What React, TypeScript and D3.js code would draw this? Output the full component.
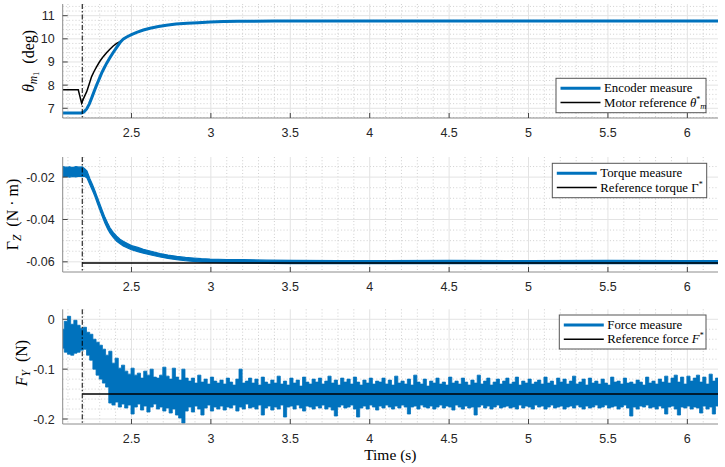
import * as d3 from "d3";

const W = 725;
const H = 467;
const LEFT = 62.7;
const RIGHT = 718;
const BLUE = "#0072BD";
const SANS = "'Liberation Sans', Arial, sans-serif";
const SERIF = "'Liberation Serif', 'DejaVu Serif', serif";

const tRange = [2.067, 6.193];
const tEvent = 2.19;
const xTicks = [2.5, 3, 3.5, 4, 4.5, 5, 5.5, 6];

// encoder measure and motor reference (deg)
const encTime = [2.067, 2.186, 2.2, 2.218, 2.234, 2.249, 2.265, 2.281, 2.297, 2.312, 2.328, 2.344, 2.365, 2.385, 2.407, 2.428, 2.45, 2.47, 2.5, 2.533, 2.575, 2.617, 2.67, 2.72, 2.78, 2.85, 2.92, 2.995, 3.08, 3.17, 3.4, 4.0, 5.0, 6.193];
const encAngle = [6.8, 6.8, 6.84, 6.97, 7.18, 7.44, 7.73, 8.01, 8.27, 8.52, 8.74, 8.95, 9.19, 9.41, 9.63, 9.84, 10.0, 10.08, 10.18, 10.28, 10.38, 10.46, 10.53, 10.59, 10.64, 10.67, 10.7, 10.73, 10.745, 10.76, 10.77, 10.77, 10.77, 10.77];
const refTime = [2.067, 2.165, 2.186, 2.2, 2.218, 2.234, 2.249, 2.265, 2.281, 2.3, 2.322, 2.343, 2.364, 2.385, 2.407, 2.428, 2.45, 2.47, 2.5, 2.533, 2.575, 2.617, 2.67, 2.72, 2.78, 2.85, 2.92, 2.995, 3.08, 3.17, 3.4, 6.193];
const refAngle = [7.8, 7.8, 7.22, 7.45, 7.72, 8.05, 8.37, 8.6, 8.8, 9.02, 9.23, 9.4, 9.55, 9.69, 9.8, 9.88, 10.0, 10.08, 10.18, 10.28, 10.38, 10.46, 10.53, 10.59, 10.64, 10.67, 10.7, 10.73, 10.745, 10.76, 10.77, 10.77];

// torque measure band (N.m)
const torqueTime = [2.067, 2.09, 2.11, 2.13, 2.15, 2.17, 2.19, 2.205, 2.22, 2.239, 2.255, 2.27, 2.285, 2.301, 2.317, 2.333, 2.35, 2.364, 2.385, 2.407, 2.428, 2.448, 2.475, 2.5, 2.54, 2.575, 2.63, 2.68, 2.73, 2.785, 2.84, 2.89, 2.94, 2.995, 3.1, 3.205, 3.35, 3.52, 3.8, 4.1, 4.5, 5.0, 5.5, 6.0, 6.193];
const torqueHigh = [-0.015, -0.0154, -0.0151, -0.0155, -0.015, -0.0153, -0.0152, -0.016, -0.0172, -0.0209, -0.0236, -0.0264, -0.0295, -0.0327, -0.0359, -0.039, -0.0417, -0.0438, -0.0461, -0.0479, -0.0493, -0.0503, -0.0514, -0.0523, -0.0532, -0.0541, -0.0551, -0.0561, -0.0568, -0.0574, -0.0579, -0.0582, -0.0585, -0.0587, -0.0589, -0.059, -0.0592, -0.0593, -0.0594, -0.0594, -0.0593, -0.0594, -0.0593, -0.0594, -0.0594];
const torqueLow = [-0.0198, -0.0196, -0.02, -0.0197, -0.0199, -0.0196, -0.0198, -0.0196, -0.0204, -0.0237, -0.0264, -0.0292, -0.0323, -0.0355, -0.0387, -0.0418, -0.0445, -0.0464, -0.0485, -0.0503, -0.0515, -0.0525, -0.0534, -0.0543, -0.0552, -0.0559, -0.0569, -0.0577, -0.0584, -0.059, -0.0595, -0.0598, -0.0601, -0.0603, -0.0605, -0.0606, -0.0607, -0.0608, -0.0608, -0.0608, -0.0608, -0.0608, -0.0608, -0.0608, -0.0608];
const torqueRef = -0.0606;

// force measure band (N), sampled every 0.02 s
const FORCE_T0 = 2.067;
const FORCE_DT = 0.02;
const forceHigh = [
  -0.020, -0.004, 0.006, -0.010, -0.002, -0.012, -0.018, -0.016, -0.026, -0.030,
  -0.040, -0.046, -0.052, -0.060, -0.072, -0.064, -0.088, -0.078, -0.098, -0.092,
  -0.104, -0.110, -0.098, -0.112, -0.108, -0.118, -0.104, -0.112, -0.100, -0.116,
  -0.118, -0.112, -0.096, -0.114, -0.120, -0.098, -0.116, -0.122, -0.100, -0.118,
  -0.124, -0.118, -0.128, -0.112, -0.126, -0.120, -0.130, -0.116, -0.124, -0.128,
  -0.122, -0.130, -0.118, -0.126, -0.132, -0.120, -0.100, -0.128, -0.124, -0.118,
  -0.128, -0.120, -0.132, -0.116, -0.126, -0.130, -0.122, -0.128, -0.114, -0.130,
  -0.124, -0.132, -0.118, -0.128, -0.122, -0.134, -0.116, -0.126, -0.130, -0.120,
  -0.126, -0.118, -0.130, -0.124, -0.114, -0.128, -0.122, -0.132, -0.118, -0.126,
  -0.120, -0.130, -0.116, -0.126, -0.132, -0.122, -0.128, -0.118, -0.130, -0.124,
  -0.126, -0.118, -0.130, -0.122, -0.132, -0.114, -0.128, -0.124, -0.130, -0.120,
  -0.132, -0.112, -0.126, -0.130, -0.120, -0.134, -0.124, -0.128, -0.118, -0.130,
  -0.126, -0.132, -0.116, -0.128, -0.124, -0.130, -0.118, -0.126, -0.132, -0.122,
  -0.128, -0.112, -0.130, -0.124, -0.118, -0.132, -0.126, -0.120, -0.130, -0.124,
  -0.118, -0.130, -0.126, -0.116, -0.132, -0.124, -0.128, -0.120, -0.130, -0.126,
  -0.122, -0.130, -0.116, -0.128, -0.124, -0.132, -0.118, -0.126, -0.120, -0.130,
  -0.124, -0.114, -0.130, -0.126, -0.120, -0.132, -0.118, -0.128, -0.124, -0.130,
  -0.120, -0.128, -0.132, -0.116, -0.126, -0.124, -0.130, -0.118, -0.128, -0.126,
  -0.130, -0.122, -0.126, -0.132, -0.116, -0.128, -0.124, -0.130, -0.120, -0.126,
  -0.114, -0.128, -0.118, -0.112, -0.126, -0.116, -0.130, -0.114, -0.124, -0.118,
  -0.112, -0.126, -0.116, -0.130, -0.110, -0.124, -0.118, -0.128, -0.120, -0.126,
];
const forceLow = [
  -0.058, -0.066, -0.070, -0.072, -0.068, -0.066, -0.062, -0.060, -0.072, -0.082,
  -0.100, -0.112, -0.120, -0.128, -0.136, -0.168, -0.172, -0.166, -0.176, -0.170,
  -0.178, -0.172, -0.190, -0.176, -0.170, -0.182, -0.174, -0.186, -0.176, -0.170,
  -0.180, -0.176, -0.184, -0.178, -0.188, -0.180, -0.192, -0.198, -0.208, -0.184,
  -0.176, -0.186, -0.174, -0.180, -0.192, -0.178, -0.172, -0.184, -0.176, -0.180,
  -0.174, -0.182, -0.176, -0.178, -0.172, -0.184, -0.176, -0.180, -0.170, -0.178,
  -0.176, -0.180, -0.172, -0.192, -0.178, -0.174, -0.182, -0.176, -0.180, -0.172,
  -0.196, -0.176, -0.174, -0.180, -0.172, -0.178, -0.184, -0.174, -0.176, -0.180,
  -0.174, -0.178, -0.172, -0.180, -0.176, -0.182, -0.194, -0.176, -0.172, -0.178,
  -0.176, -0.172, -0.180, -0.196, -0.178, -0.174, -0.180, -0.172, -0.176, -0.182,
  -0.174, -0.178, -0.172, -0.176, -0.180, -0.174, -0.178, -0.172, -0.176, -0.190,
  -0.176, -0.174, -0.180, -0.172, -0.176, -0.178, -0.174, -0.180, -0.176, -0.172,
  -0.178, -0.174, -0.176, -0.182, -0.172, -0.176, -0.180, -0.174, -0.178, -0.176,
  -0.192, -0.176, -0.172, -0.178, -0.174, -0.180, -0.176, -0.172, -0.178, -0.176,
  -0.174, -0.178, -0.176, -0.180, -0.172, -0.178, -0.174, -0.176, -0.180, -0.172,
  -0.176, -0.174, -0.180, -0.176, -0.172, -0.178, -0.176, -0.174, -0.180, -0.176,
  -0.174, -0.178, -0.172, -0.176, -0.180, -0.174, -0.178, -0.176, -0.172, -0.178,
  -0.176, -0.172, -0.178, -0.176, -0.174, -0.180, -0.176, -0.172, -0.178, -0.194,
  -0.176, -0.180, -0.174, -0.176, -0.172, -0.178, -0.176, -0.180, -0.174, -0.178,
  -0.190, -0.176, -0.174, -0.180, -0.192, -0.176, -0.178, -0.174, -0.180, -0.176,
  -0.178, -0.188, -0.174, -0.180, -0.176, -0.190, -0.174, -0.178, -0.176, -0.180,
];
const forceRef = -0.15;

const x = d3.scaleLinear().domain(tRange).range([LEFT, RIGHT]);
const xMinor = d3.range(21, 62).filter((i) => i % 5 !== 0).map((i) => i / 10);

type PanelProps = {
  id: string;
  top: number;
  bottom: number;
  domain: [number, number];
  ticks: number[];
  minor: number[];
  fmt: (d: number) => string;
  children: (y: d3.ScaleLinear<number, number>) => any;
};

function Panel({ id, top, bottom, domain, ticks, minor, fmt, children }: PanelProps) {
  const y = d3.scaleLinear().domain(domain).range([bottom, top]);
  const minorIn = minor.filter((v) => v > domain[0] && v < domain[1]);
  return (
    <g>
      <defs>
        <clipPath id={id}>
          <rect x={LEFT} y={top} width={RIGHT - LEFT} height={bottom - top} />
        </clipPath>
      </defs>
      <g stroke="#c4c4c4" strokeWidth={0.8} strokeDasharray="1,2.2">
        {xMinor.map((t) => (
          <line key={"xm" + t} x1={x(t)} x2={x(t)} y1={top} y2={bottom} />
        ))}
        {minorIn.map((v) => (
          <line key={"ym" + v} x1={LEFT} x2={RIGHT} y1={y(v)} y2={y(v)} />
        ))}
      </g>
      <g stroke="#e3e3e3" strokeWidth={1}>
        {xTicks.map((t) => (
          <line key={"xg" + t} x1={x(t)} x2={x(t)} y1={top} y2={bottom} />
        ))}
        {ticks.map((v) => (
          <line key={"yg" + v} x1={LEFT} x2={RIGHT} y1={y(v)} y2={y(v)} />
        ))}
      </g>
      <g clipPath={`url(#${id})`}>{children(y)}</g>
      <line
        x1={x(tEvent)}
        x2={x(tEvent)}
        y1={top}
        y2={bottom}
        stroke="#000"
        strokeWidth={1}
        strokeDasharray="5,2,1.5,2"
      />
      <line x1={LEFT} x2={LEFT} y1={top} y2={bottom} stroke="#8c8c8c" strokeWidth={1} />
      <line x1={LEFT} x2={RIGHT} y1={bottom} y2={bottom} stroke="#8c8c8c" strokeWidth={1} />
      <g stroke="#444" strokeWidth={1}>
        {xTicks.map((t) => (
          <line key={"xt" + t} x1={x(t)} x2={x(t)} y1={bottom} y2={bottom - 5} />
        ))}
        {ticks.map((v) => (
          <line key={"yt" + v} x1={LEFT} x2={LEFT + 5} y1={y(v)} y2={y(v)} />
        ))}
      </g>
      <g fontFamily={SANS} fontSize={12.5} fill="#262626">
        {xTicks.map((t) => (
          <text key={"xl" + t} x={x(t)} y={bottom + 19} textAnchor="middle">
            {String(t)}
          </text>
        ))}
        {ticks.map((v) => (
          <text key={"yl" + v} x={LEFT - 8} y={y(v) + 4.5} textAnchor="end">
            {fmt(v)}
          </text>
        ))}
      </g>
    </g>
  );
}

type LegendItem = { color: string; width: number; label: any };

function Legend({ x0, y0, w, h, items }: { x0: number; y0: number; w: number; h: number; items: LegendItem[] }) {
  return (
    <g>
      <rect x={x0} y={y0} width={w} height={h} fill="#fff" stroke="#555" strokeWidth={1} />
      {items.map((it, i) => {
        const cy = y0 + 10 + i * 14.2;
        return (
          <g key={i}>
            <line x1={x0 + 4.5} x2={x0 + 44.5} y1={cy} y2={cy} stroke={it.color} strokeWidth={it.width} />
            <text x={x0 + 48} y={cy + 4} fontFamily={SERIF} fontSize={12.8} fill="#000">
              {it.label}
            </text>
          </g>
        );
      })}
    </g>
  );
}

export default function App() {
  const pts = (ts: number[], vs: number[]) => ts.map((t, i) => [t, vs[i]] as [number, number]);
  const forceT = forceHigh.map((_, i) => FORCE_T0 + i * FORCE_DT);

  return (
    <svg width={W} height={H} style={{ position: "absolute", left: 0, top: 0, background: "#fff" }}>
      <Panel
        id="c1"
        top={4}
        bottom={118}
        domain={[6.58, 11.505]}
        ticks={[7, 8, 9, 10, 11]}
        minor={d3.range(33, 58).filter((i) => i % 5 !== 0).map((i) => i / 5)}
        fmt={(d) => String(d)}
      >
        {(y) => {
          const line = d3.line<[number, number]>().x((d) => x(d[0])).y((d) => y(d[1]));
          return (
            <>
              <path d={line(pts(refTime, refAngle)) || ""} fill="none" stroke="#000" strokeWidth={1.5} />
              <path d={line(pts(encTime, encAngle)) || ""} fill="none" stroke={BLUE} strokeWidth={3} />
            </>
          );
        }}
      </Panel>
      <Panel
        id="c2"
        top={157}
        bottom={272}
        domain={[-0.0648, -0.0105]}
        ticks={[-0.06, -0.04, -0.02]}
        minor={d3.range(-13, -2).filter((i) => i % 4 !== 0).map((i) => i * 0.005)}
        fmt={(d) => d.toFixed(2)}
      >
        {(y) => {
          const area = d3
            .area<number>()
            .x((_, i) => x(torqueTime[i]))
            .y0((_, i) => y(torqueLow[i]))
            .y1((_, i) => y(torqueHigh[i]));
          return (
            <>
              <path d={area(torqueTime) || ""} fill={BLUE} stroke={BLUE} strokeWidth={1.2} />
              <line x1={x(tEvent)} x2={RIGHT} y1={y(torqueRef)} y2={y(torqueRef)} stroke="#000" strokeWidth={1.5} />
            </>
          );
        }}
      </Panel>
      <Panel
        id="c3"
        top={309.3}
        bottom={424}
        domain={[-0.21, 0.02]}
        ticks={[-0.2, -0.1, 0]}
        minor={d3.range(-10, 2).filter((i) => i % 5 !== 0).map((i) => i * 0.02)}
        fmt={(d) => String(d)}
      >
        {(y) => {
          const area = d3
            .area<number>()
            .curve(d3.curveStep)
            .x((_, i) => x(forceT[i]))
            .y0((_, i) => y(forceLow[i]))
            .y1((_, i) => y(forceHigh[i]));
          return (
            <>
              <path d={area(forceT) || ""} fill={BLUE} stroke={BLUE} strokeWidth={0.8} />
              <line x1={x(tEvent)} x2={RIGHT} y1={y(forceRef)} y2={y(forceRef)} stroke="#000" strokeWidth={1.5} />
            </>
          );
        }}
      </Panel>

      {/* y labels */}
      <text transform="translate(33.5,61) rotate(-90)" textAnchor="middle" fontFamily={SERIF} fontSize={16} fill="#000">
        <tspan fontStyle="italic">θ</tspan>
        <tspan fontStyle="italic" fontSize={11.5} dy={3}>m</tspan>
        <tspan fontSize={8.5} dy={2}>1</tspan>
        <tspan dy={-5}>{"\u00a0\u00a0(deg)"}</tspan>
      </text>
      <text transform="translate(18,214.5) rotate(-90)" textAnchor="middle" fontFamily={SERIF} fontSize={16} fill="#000">
        <tspan>Γ</tspan>
        <tspan fontStyle="italic" fontSize={11.5} dy={3}>Z</tspan>
        <tspan dy={-3}>{"\u00a0\u00a0(N · m)"}</tspan>
      </text>
      <text transform="translate(27,363) rotate(-90)" textAnchor="middle" fontFamily={SERIF} fontSize={16} fill="#000">
        <tspan fontStyle="italic">F</tspan>
        <tspan fontStyle="italic" fontSize={11.5} dy={3}>Y</tspan>
        <tspan dy={-3}>{"\u00a0\u00a0(N)"}</tspan>
      </text>
      <text x={(LEFT + RIGHT) / 2} y={460} textAnchor="middle" fontFamily={SERIF} fontSize={15.5} fill="#000">
        Time (s)
      </text>

      <Legend
        x0={556}
        y0={78.3}
        w={150}
        h={34.4}
        items={[
          { color: BLUE, width: 3, label: "Encoder measure" },
          {
            color: "#000",
            width: 1.5,
            label: (
              <>
                {"Motor reference "}
                <tspan fontStyle="italic">θ</tspan>
                <tspan fontSize={8} dy={-5}>*</tspan>
                <tspan fontSize={8.5} fontStyle="italic" dy={7}>m</tspan>
              </>
            ),
          },
        ]}
      />
      <Legend
        x0={552.3}
        y0={163.3}
        w={154.4}
        h={34.4}
        items={[
          { color: BLUE, width: 3, label: "Torque measure" },
          {
            color: "#000",
            width: 1.5,
            label: (
              <>
                {"Reference torque Γ"}
                <tspan fontSize={8} dy={-5}>*</tspan>
              </>
            ),
          },
        ]}
      />
      <Legend
        x0={559.3}
        y0={315}
        w={146.7}
        h={34}
        items={[
          { color: BLUE, width: 3, label: "Force measure" },
          {
            color: "#000",
            width: 1.5,
            label: (
              <>
                {"Reference force "}
                <tspan fontStyle="italic">F</tspan>
                <tspan fontSize={8} dy={-5}>*</tspan>
              </>
            ),
          },
        ]}
      />
    </svg>
  );
}
